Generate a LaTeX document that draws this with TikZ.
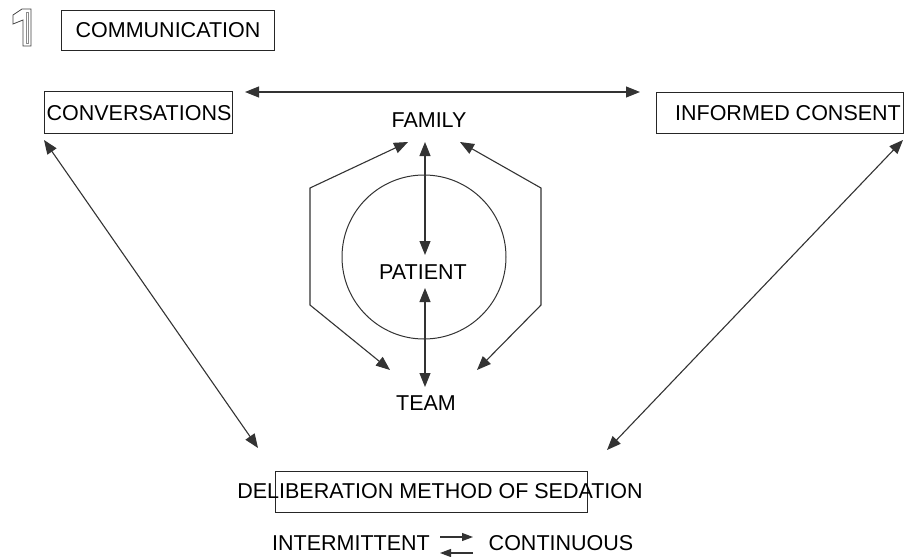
\documentclass[tikz,border=0pt]{standalone}
\usepackage{fontspec}
\setmainfont{Liberation Sans}
\usetikzlibrary{arrows.meta}
\begin{document}
\begin{tikzpicture}[x=1pt,y=-1pt,
  lbl/.style={font=\fontsize{21.5}{25}\selectfont, inner sep=0pt, text=black},
  boxn/.style={draw=black!85, line width=1pt, inner sep=0pt},
  conn/.style={draw=black!80, line width=1.1pt, {Triangle[length=14pt,width=11pt]}-{Triangle[length=14pt,width=11pt]}},
  small/.style={draw=black!80, line width=1.1pt, -{Triangle[length=11pt,width=8pt]}}]
\useasboundingbox (0,0) rectangle (906,557);
% outlined digit one
\draw[black!75, line width=0.8pt] (13,15) -- (22,9) -- (31,9) -- (31,46) -- (23,46) -- (23,20) -- (13,24) -- cycle;
\draw[black!45, line width=0.7pt] (26,12) -- (28,12) -- (28,43) -- (26,43) -- cycle;
% boxes and labels
\node[boxn, minimum width=213pt, minimum height=40pt] (comm) at (168,30) {};
\node[lbl] (commt) at (168,30) {COMMUNICATION};
\node[boxn, minimum width=188pt, minimum height=42pt] (conv) at (138,112) {};
\node[lbl] (convt) at (139,113) {CONVERSATIONS};
\node[boxn, minimum width=247pt, minimum height=41pt] (inf) at (779.5,112.5) {};
\node[lbl] (inft) at (788,113) {INFORMED CONSENT};
\node[boxn, minimum width=312pt, minimum height=41pt] (delb) at (431,491.5) {};
\node[lbl] (delt) at (440,491) {DELIBERATION METHOD OF SEDATION};
\node[lbl] (fam) at (429,120) {FAMILY};
\node[lbl] (pat) at (423,272) {PATIENT};
\node[lbl] (team) at (426,403) {TEAM};
\node[lbl] (inter) at (351,543) {INTERMITTENT};
\node[lbl] (cont) at (561,543) {CONTINUOUS};
% circle
\node[draw=black!80, line width=1pt, circle, minimum size=164pt] (circ) at (424,257) {};
% connector end points
\coordinate (tl) at (245,92);
\coordinate (tr) at (640,92);
\coordinate (cvb) at (44,140);
\coordinate (dl) at (258,448);
\coordinate (icb) at (903,140);
\coordinate (dr) at (607,450);
\coordinate (fp1) at (425,142);
\coordinate (fp2) at (425,255);
\coordinate (pt1) at (425,288);
\coordinate (pt2) at (425,387);
\coordinate (fl) at (408,142);
\coordinate (hl1) at (310,188);
\coordinate (hl2) at (310,305);
\coordinate (tml) at (390,370);
\coordinate (fr) at (460,142);
\coordinate (hr1) at (541,188);
\coordinate (hr2) at (541,305);
\coordinate (tmr) at (477,370);
\coordinate (ia) at (440,537);
\coordinate (ib) at (473,537);
\coordinate (ic) at (473,553);
\coordinate (id) at (440,553);
% connectors
\draw[conn] (tl) -- (tr);
\draw[conn] (cvb) -- (dl);
\draw[conn] (icb) -- (dr);
\draw[conn] (fp1) -- (fp2);
\draw[conn] (pt1) -- (pt2);
\draw[conn] (fl) -- (hl1) -- (hl2) -- (tml);
\draw[conn] (fr) -- (hr1) -- (hr2) -- (tmr);
\draw[small] (ia) -- (ib);
\draw[small] (ic) -- (id);
\end{tikzpicture}
\end{document}
